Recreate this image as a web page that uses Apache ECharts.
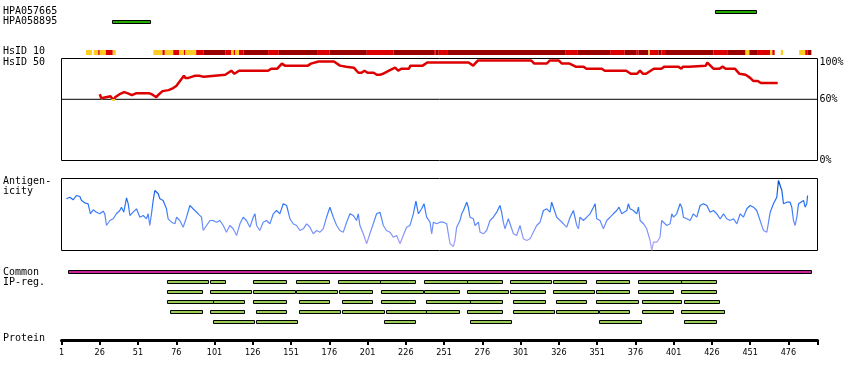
<!DOCTYPE html>
<html><head><meta charset="utf-8">
<script src="https://cdn.jsdelivr.net/npm/echarts@6/dist/echarts.min.js"></script>
<style>html,body{margin:0;padding:0;background:#fff}#c{width:850px;height:380px}</style>
</head><body><div id="c"></div>
<script>
// ---------------- data ----------------
const proteinLength = 494;
const hpaNames = ['HPA057665', 'HPA058895'];
const hpaRanges = [[428, 455, 0], [34, 59, 1]];

// HsID 10 strip: [start, end, class] class 1 = low (yellow), 2 = mid (red), 3 = high (dark red)
const hsid10Segments = [
  [17,21,1],[22,25,1],[25,26,2],[26,30,1],[30,34.5,2],[34.5,36.5,1],
  [61,67,1],[67,68.5,2],[68.5,74,1],[74,78,2],[78,81,1],[81,82,2],[82,89,1],[89,94,2],
  [94,108,3],[108,112,2],[112,113.5,1],[113.5,114.5,2],[114.5,117,1],[117,120,2],
  [120,136,3],[136,143,2],[143,168.5,3],[168.5,176,2],[176,200.5,3],[200.5,218,2],
  [218,244.5,3],[244.5,245.5,2],[245.5,247.5,3],[247.5,253,2],[253,330.5,3],[330.5,338,2],
  [338,359.5,3],[359.5,369,2],[369,376.5,3],[376.5,378,2],[378,384.5,3],[384.5,385.5,1],
  [385.5,391,2],[391,393,3],[393,396,2],[396,427,3],[427,436,2],[436,448,3],[448,450.5,1],
  [450.5,455.5,3],[455.5,464,2],[464,465.5,1],[465.5,467,2],[471,472.5,1],[483,487,1],
  [487,488.5,2],[488.5,491,3]
];

// HsID 50 identity (%)
const hsidRes = [26,27,28,33,34,35,36,39,42,44,47,50,58,60,63,64,67,71,74,76,81,82,84,86,88,91,94,95,108,112,114,117,136,138,142,145,147,162,164,169,179,183,187,192,195,197,199,201,205,207,209,211,215,219,221,223,228,229,237,240,242,267,270,273,308,310,318,320,326,328,333,337,342,344,354,356,370,373,377,379,381,383,388,393,395,404,406,407,411,412,422,423,424,427,431,433,435,441,444,448,451,453,456,458,469];
const hsidVal = [65,61,62,63,61,59,62,65,67,66,64,66,66,65,62,64,68,69,71,73,83,81,81,82,83,83,82,83,84,88,85,88,88,90,90,95,93,93,95,97,97,93,92,91,86,86,88,86,86,84,84,85,88,91,88,90,90,93,93,96,96,96,93,98,98,95,95,98,98,95,95,92,92,90,90,88,88,85,85,88,85,85,90,90,92,92,90,92,92,93,93,96,95,90,90,92,90,90,85,84,81,78,78,76,76];
const hsidTicks = [0, 60, 100];
const hsidThreshold = 60;

// Antigenicity score
const antRes = [4.2,6.4,8.6,10.8,13.0,14.1,16.2,18.4,19.9,21.7,23.9,26.0,28.2,29.3,30.4,32.6,34.8,36.9,39.1,40.2,41.7,43.5,44.6,45.7,47.8,50.0,52.2,54.4,56.5,57.6,58.7,59.8,60.9,62.0,64.2,65.3,67.4,69.6,70.7,72.9,75.1,76.2,78.3,80.5,82.7,84.9,86.0,88.1,90.3,92.5,93.6,95.8,98.0,100.1,102.3,104.5,106.7,108.8,111.0,113.2,115.4,117.6,119.7,121.9,124.1,126.3,127.4,128.5,130.6,132.8,135.0,137.2,139.4,141.5,143.7,145.9,148.1,150.3,152.4,154.6,156.8,159.0,161.2,163.3,165.5,167.7,169.9,172.0,174.2,176.4,178.6,180.8,182.9,185.1,187.3,189.5,191.7,193.8,194.9,196.0,198.2,200.4,202.5,204.7,206.9,209.1,211.3,213.4,215.6,217.8,220.0,222.2,224.3,226.5,228.7,230.9,232.6,234.2,236.3,237.9,239.6,241.8,
  242.9,244.0,246.1,248.3,250.5,252.7,253.8,254.9,257.0,258.1,259.2,261.4,262.5,263.6,265.8,266.8,267.9,270.1,271.2,272.3,273.4,274.5,276.7,278.8,281.0,283.2,285.4,287.5,288.6,289.7,290.8,293.0,294.1,296.3,298.4,300.6,301.7,302.8,305.0,307.2,309.3,311.5,313.7,315.9,318.1,320.2,321.3,322.4,324.6,326.8,329.0,331.1,333.3,335.5,337.7,338.8,339.8,342.0,344.2,346.4,348.6,349.7,350.7,352.9,355.1,357.3,359.5,361.6,363.8,365.3,367.1,368.2,370.4,371.4,372.5,374.7,376.9,378.0,379.1,381.3,383.4,385.6,386.7,387.8,390.0,392.1,393.2,394.3,396.5,398.7,399.8,400.9,403.0,405.2,406.3,407.4,409.6,411.8,413.9,416.1,418.3,420.5,422.7,424.8,427.0,429.2,431.4,433.6,435.7,437.9,440.1,442.3,444.5,446.6,448.8,451.0,453.2,455.3,457.5,459.7,461.9,464.1,466.2,468.4,469.5,470.6,471.7,472.8,475.0,477.1,478.2,479.3,480.4,481.5,482.6,483.7,485.9,486.9,488.0,488.5];
const antVal = [51.7,53.3,50.7,55,54,50,47.7,46.7,36.7,40.7,38.3,36.7,39.3,36.7,25,30,31.7,36.7,40,43.3,38.3,52.7,46.7,35,38.3,41.7,33.3,35,31.7,36.7,25,36.7,50,60,56.7,51.7,50,41.7,31.7,28.3,26.7,33.3,30,23.3,33.3,45,46.7,40,36.7,33.3,20,25,30,30,28.3,30,25,18.3,25,21.7,15,26.7,33.3,30,23.3,33.3,36.7,25,20,28.3,30,26.7,36.7,40,36.7,46.7,45,31.7,26.7,25,20,21.7,26.7,23.3,16.7,20,18.3,21.7,33.3,43.3,33.3,25,20,18.3,28.3,36.7,35,30,36.7,25,16.7,6.7,16.7,26.7,36.7,38.3,25,20,18.3,13.3,15,6.7,15,23.3,25,36.7,49.3,36.7,41.7,46.7,33.3,28.3,
  16.7,28.3,26.7,28.3,28.3,26.7,16.7,6.7,4,10,23.3,30,36.7,40,48.3,43.3,33.3,31.7,25,26.7,28.3,18.3,16.7,20,30,33.3,38.3,45,38.3,28.3,21.7,31.7,26.7,16.7,15,25,18.3,11.7,10,11.7,18.3,25,28.3,40,41.7,38.3,48.3,43.3,33.3,30,26.7,23.3,33.3,40,25,21.7,33.3,30,33.3,36.7,43.3,46.7,31.7,30,21.7,30,33.3,36.7,40,43.3,36.7,38.3,40,46.7,41.7,40,36.7,43.3,30,26.7,21.7,10,0,8.3,8.3,13.3,30,28.3,25,26.7,36.7,33.3,36.7,46.7,43.3,33.3,31.7,30,36.7,33.3,45,46.7,45,38.3,40,36.7,31.7,36.7,31.7,30,31.7,26.7,36.7,33.3,41.7,45,43.3,40,30,20,18.3,38.3,46.7,53.3,70,68.3,60,46.7,48.3,48.3,43.3,30,25,33.3,46.7,48.3,50,43.3,46.7,55];

// Common region and IP-reg rows: [start, end]
const commonRegion = [5, 491];
const ipRow1 = [[70,97],[98,108],[126,148],[154,176],[182,209],[209,232],[238,266],[266,289],[294,321],[322,344],[350,372],[378,406],[406,429]];
const ipRow2 = [[70,92.5],[98,125],[126,153.5],[154,181],[182.5,204],[209.5,237.5],[238,260.5],[266,293],[294,317],[322,349],[350.5,372],[378,400.5],[406,428.5]];
const ipRow3 = [[70,100],[100,120.5],[126,148],[156,176],[184.5,204],[209.5,232],[239.5,268],[268,289],[296,317],[324,344],[350.5,377.5],[380.5,406],[407.5,430.5]];
const ipRow4 = [[72,92.5],[98,120.5],[128,148],[156,183],[184.5,212],[213,239.5],[239.5,260.5],[266,289],[296,323],[324,351.5],[352.5,372],[380.5,400.5],[406,434]];
const ipRow5 = [[100,127],[128,155],[212,232],[268,295],[352.5,379.5],[407.5,428.5]];

const axisLabels = [1,26,51,76,101,126,151,176,201,226,251,276,301,326,351,376,401,426,451,476];

const sideLabels = [
  ['HPA057665', 12.7], ['HPA058895', 22.7], ['HsID 10', 52.7], ['HsID 50', 63.3],
  ['Antigen-', 182], ['icity', 192], ['Common', 273], ['IP-reg.', 283], ['Protein', 339.7]
];

// ---------------- build ----------------
const L = 61.5, W = 756;
const MONO = 'DejaVu Sans Mono';
const xMax = proteinLength + 1;
const stripColors = {1: '#ffcc22', 2: '#dd0000', 3: '#990000'};
const G2 = {top: 58.5, height: 102};
const G3 = {top: 178.5, height: 72};
const thrOff = 1 - hsidThreshold / 100;

const ipData = [[commonRegion[0], commonRegion[1], 0]];
[ipRow1, ipRow2, ipRow3, ipRow4, ipRow5].forEach((row, i) => row.forEach(r => ipData.push([r[0], r[1], i + 1])));

function barRender(fillFn) {
  return function (params, api) {
    const a = api.coord([api.value(0), api.value(2)]);
    const b = api.coord([api.value(1), api.value(2)]);
    const x0 = Math.round(a[0]), x1 = Math.round(b[0]);
    const y0 = Math.round(a[1] - 2);
    return {
      type: 'rect',
      shape: {x: x0 + 0.5, y: y0 + 0.5, width: x1 - x0, height: 3},
      style: {fill: fillFn(api), stroke: '#000', lineWidth: 1}
    };
  };
}

const xAxes = [0,1,2,3,4].map(i => ({gridIndex: i, type: 'value', min: 1, max: xMax, show: false}));
xAxes.push({
  gridIndex: 5, type: 'value', min: 1, max: xMax, position: 'bottom',
  axisLine: {show: true, lineStyle: {color: '#000', width: 3}},
  axisTick: {show: true, length: 5, lineStyle: {color: '#000', width: 2}, customValues: axisLabels.concat([xMax])},
  axisLabel: {show: true, customValues: axisLabels, color: '#000', fontSize: 9, margin: 8,
    fontFamily: "'Liberation Sans Narrow','DejaVu Sans Condensed',sans-serif"},
  splitLine: {show: false}
});

const option = {
  animation: false,
  backgroundColor: '#fff',
  textStyle: {fontFamily: MONO},
  grid: [
    {left: L, width: W, top: 7, height: 20},
    {left: L, width: W, top: 50, height: 5},
    {left: L, width: W, top: G2.top, height: G2.height, show: true, borderColor: '#000', borderWidth: 1, backgroundColor: 'transparent'},
    {left: L, width: W, top: G3.top, height: G3.height, show: true, borderColor: '#000', borderWidth: 1, backgroundColor: 'transparent'},
    {left: L, width: W, top: 267.3, height: 60},
    {left: L, width: W, top: 330, height: 10}
  ],
  xAxis: xAxes,
  yAxis: [
    {gridIndex: 0, type: 'category', data: hpaNames, inverse: true, show: false},
    {gridIndex: 1, type: 'category', data: ['HsID 10'], show: false},
    {gridIndex: 2, type: 'value', min: 0, max: 100, interval: 20, position: 'right',
      axisLine: {show: false}, axisTick: {show: false}, splitLine: {show: false},
      axisLabel: {show: true, margin: 2, color: '#000', fontSize: 10, fontFamily: MONO,
        formatter: v => hsidTicks.indexOf(v) < 0 ? '' : (v === 100 ? '{t|' + v + '%}' : v + '%'),
        rich: {t: {padding: [8, 0, 0, 0], fontSize: 10, fontFamily: MONO, color: '#000'}}}},
    {gridIndex: 3, type: 'value', min: 0, max: 72, show: false},
    {gridIndex: 4, type: 'category', data: ['Common','1','2','3','4','5'], inverse: true, show: false},
    {gridIndex: 5, type: 'value', show: false}
  ],
  series: [
    {type: 'custom', xAxisIndex: 0, yAxisIndex: 0, data: hpaRanges, encode: {x: [0, 1], y: 2},
      renderItem: barRender(() => '#22aa00'), silent: true},
    {type: 'custom', xAxisIndex: 1, yAxisIndex: 1, encode: {x: [0, 1], y: 2},
      data: hsid10Segments.map(s => [s[0], s[1], 0, s[2]]),
      renderItem: function (params, api) {
        const a = api.coord([api.value(0), 0]);
        const b = api.coord([api.value(1), 0]);
        return {type: 'rect', shape: {x: a[0], y: a[1] - 2.5, width: b[0] - a[0], height: 5},
          style: {fill: stripColors[api.value(3)]}};
      }, silent: true},
    {type: 'line', xAxisIndex: 2, yAxisIndex: 2, data: hsidRes.map((r, i) => [r, hsidVal[i]]),
      showSymbol: false, symbol: 'none', silent: true, z: 3,
      lineStyle: {width: 2.5, color: {type: 'linear', global: true, x: 0, y: G2.top, x2: 0, y2: G2.top + G2.height,
        colorStops: [{offset: 0, color: '#dd0000'}, {offset: thrOff, color: '#dd0000'},
                     {offset: thrOff + 0.001, color: '#ffcc22'}, {offset: 1, color: '#ffcc22'}]}}},
    {type: 'line', xAxisIndex: 3, yAxisIndex: 3, data: antRes.map((r, i) => [r, antVal[i]]),
      showSymbol: false, symbol: 'none', silent: true,
      lineStyle: {width: 1.2, color: {type: 'linear', global: true, x: 0, y: G3.top, x2: 0, y2: G3.top + G3.height,
        colorStops: [{offset: 0, color: '#0044b0'}, {offset: 0.2, color: '#1464e4'}, {offset: 0.4, color: '#2f78f6'},
                     {offset: 0.6, color: '#5e8afa'}, {offset: 0.8, color: '#8c98f8'}, {offset: 1, color: '#b4a6f6'}]}}},
    {type: 'custom', xAxisIndex: 4, yAxisIndex: 4, data: ipData, encode: {x: [0, 1], y: 2},
      renderItem: barRender(api => api.value(2) === 0 ? '#cc2299' : '#99cc55'), silent: true},
    {type: 'line', xAxisIndex: 2, yAxisIndex: 2, data: [[1, hsidThreshold], [xMax, hsidThreshold]],
      showSymbol: false, symbol: 'none', lineStyle: {width: 1, color: '#000'}, silent: true, z: 2}
  ],
  graphic: sideLabels.map(s => ({
    type: 'text', left: 3, top: s[1] - 6, silent: true,
    style: {text: s[0], font: '10px ' + MONO, fill: '#000', verticalAlign: 'top'}
  }))
};

const chart = echarts.init(document.getElementById('c'), null, {renderer: 'canvas'});
chart.setOption(option);
</script>
</body></html>
